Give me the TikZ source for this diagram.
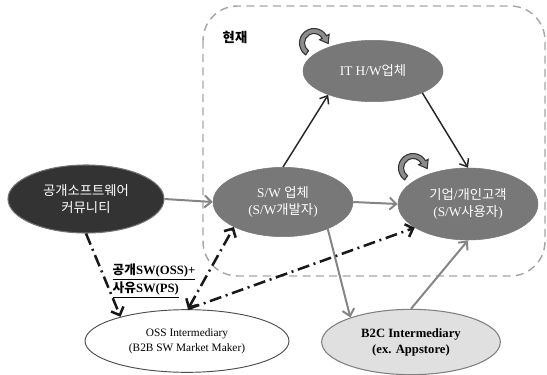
\documentclass[tikz,border=0pt]{standalone}
\usepackage{fontspec}
\setmainfont{Liberation Serif}
\newfontfamily\kr{Noto Sans CJK KR}
\usetikzlibrary{arrows.meta,shapes.geometric}
\newcommand\kor[1]{{\kr #1}}
\begin{document}
\begin{tikzpicture}[x=0.75pt,y=-0.75pt,
  ell/.style={ellipse, inner sep=0pt, align=center, font=\fontsize{10}{12.5}\selectfont},
  darknode/.style={ell, fill=black!80, draw=black!55, line width=0.8pt, text=white},
  graynode/.style={ell, fill=black!53, draw=black!53, text=white},
  ossnode/.style={ell, fill=white, draw=black!70, line width=0.7pt, font=\fontsize{8.5}{11}\selectfont},
  b2cnode/.style={ell, fill=black!12, draw=black!50, line width=0.8pt, font=\fontsize{9.5}{12}\selectfont\bfseries},
  grayarrow/.style={draw=black!48, line width=1.5pt, -{Straight Barb[length=5pt,width=9pt]}},
  blackarrow/.style={draw=black!85, line width=1.1pt, -{Straight Barb[length=5pt,width=8pt]}},
  dasharrow/.style={draw=black!90, line width=1.9pt, dash pattern=on 9pt off 3.5pt on 1.5pt off 3.5pt, -{Straight Barb[length=5pt,width=10pt]}},
  boxline/.style={draw=black!35, line width=1.1pt, dash pattern=on 6pt off 4pt, rounded corners=26pt},
  loopshape/.style={fill=black!45, draw=black!80, line width=0.8pt}
]
\useasboundingbox (0,0) rectangle (547,375);
% dashed region
\draw[boxline] (203,6) rectangle (545,276);
\node[font=\kr\bfseries\fontsize{10}{12}\selectfont] (now) at (235,37) {현재};

% nodes
\node[darknode, minimum width=117pt, minimum height=51pt] (com) at (86,199) {\kor{공개소프트웨어}\\\kor{커뮤니티}};
\node[graynode, minimum width=105pt, minimum height=52pt] (sw) at (283,202) {S/W \kor{업체}\\(S/W\kor{개발자})};
\node[graynode, minimum width=105pt, minimum height=46pt] (ith) at (373,71) {IT H/W\kor{업체}};
\node[graynode, minimum width=105pt, minimum height=54pt] (corp) at (468,204) {\kor{기업}/\kor{개인고객}\\(S/W\kor{사용자})};
\node[ossnode, minimum width=153pt, minimum height=47pt] (oss) at (187,341) {OSS Intermediary\\(B2B SW Market Maker)};
\node[b2cnode, minimum width=134pt, minimum height=49pt] (b2c) at (411,342) {B2C Intermediary\\(ex. Appstore)};

% loop arrows
\foreach \cx/\cy/\nm in {314/43/loopa, 413/168/loopb}{
  \begin{scope}[shift={(\cx,\cy)}, x=0.75pt, y=0.75pt]
    \coordinate (\nm) at (0,0);
    \path[loopshape] (235:14.5) arc[start angle=235, end angle=30, radius=10.875pt]
      -- (30:17.5) -- (14.2,-0.5) -- (30:6.5) -- (30:9.5)
      arc[start angle=30, end angle=235, radius=7.125pt] -- cycle;
  \end{scope}
}

% connectors
\draw[grayarrow] (com.east) -- (sw.west);
\draw[grayarrow] (sw.east) -- (corp.west);
\draw[grayarrow] (sw.329) -- (b2c.158);
\draw[grayarrow] (b2c.north) -- (corp.south);
\draw[blackarrow] (sw.north) -- (ith.208);
\draw[blackarrow] (ith.336) -- (corp.north);

\coordinate (ossTop) at (188,309);
\draw[dasharrow] (com.south) -- (oss.160);
\draw[dasharrow, {Straight Barb[length=5pt,width=10pt]}-{Straight Barb[length=5pt,width=10pt]}] (ossTop) -- (sw.207);
\draw[dasharrow] (ossTop) -- (corp.204);

\node[anchor=west, align=left, font=\fontsize{9.5}{11.5}\selectfont\bfseries] (lbl) at (108,281)
  {\underline{\kor{공개}SW(OSS)+}\\\underline{\kor{사유}SW(PS)}};
\end{tikzpicture}
\end{document}
